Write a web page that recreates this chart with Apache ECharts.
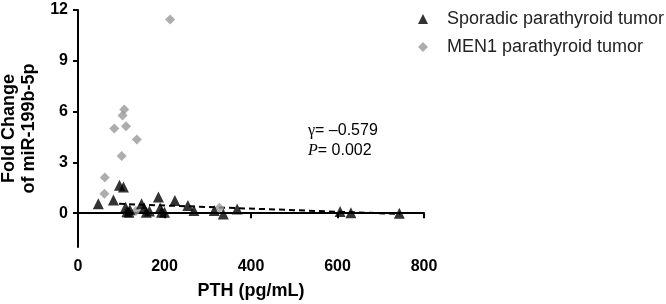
<!DOCTYPE html>
<html><head><meta charset="utf-8">
<script src="https://cdn.jsdelivr.net/npm/echarts@6/dist/echarts.min.js"></script>
<style>html,body{margin:0;padding:0;background:#fff}#c{width:666px;height:304px}</style>
</head><body><div id="c"></div>
<script>
// PTH (pg/mL), fold change of miR-199b-5p
const sporadic = [[47,0.55],[82,0.78],[96,1.65],[105,1.55],[110,0.35],[113,0.08],[118,0.05],[120,0.2],[147,0.55],[153,0.3],[158,0.05],[165,0.12],[186,0.95],[190,0.3],[193,0.05],[200,0.05],[224,0.75],[254,0.45],[268,0.15],[315,0.15],[336,-0.05],[368,0.25],[606,0.1],[631,0.02],[743,0.0]];
const men1 = [[61,1.15],[62,2.1],[84,5.0],[101,3.37],[103,5.77],[107,6.12],[111,5.14],[134,0.12],[136,4.35],[213,11.44],[327,0.32]];
const fitLine = [[95,0.55],[745,-0.05]];
const xTicks = [0,200,400,600,800];
const yTicks = [0,3,6,9,12];
const seriesNames = ['Sporadic parathyroid tumor','MEN1 parathyroid tumor'];

const chart = echarts.init(document.getElementById('c'));
const axisLabelStyle = {color:'#000', fontFamily:'Arial, Liberation Sans', fontWeight:'bold', fontSize:16};
chart.setOption({
  animation:false,
  grid:{left:78, right:242, top:10, bottom:57, containLabel:false, outerBoundsMode:'none'},
  legend:{
    orient:'vertical', left:413, top:4, itemGap:8, itemWidth:10, itemHeight:10,
    textStyle:{fontFamily:'Arial, Liberation Sans', fontSize:18, lineHeight:20, color:'#222', padding:[0,0,0,14]},
    data:[{name:seriesNames[0], icon:'triangle', itemStyle:{color:'#000'}},
          {name:seriesNames[1], icon:'diamond', itemStyle:{color:'#999999'}}]
  },
  xAxis:{
    type:'value', min:xTicks[0], max:xTicks[xTicks.length-1], interval:200,
    name:'PTH (pg/mL)', nameLocation:'middle', nameGap:35,
    nameTextStyle:{color:'#000', fontFamily:'Arial, Liberation Sans', fontWeight:'bold', fontSize:18},
    axisLine:{lineStyle:{color:'#000', width:2}},
    axisTick:{length:5, lineStyle:{color:'#000', width:2}},
    axisLabel:Object.assign({margin:12}, axisLabelStyle),
    splitLine:{show:false}
  },
  yAxis:{
    type:'value', min:-2, max:12,
    name:'Fold Change\nof miR-199b-5p', nameLocation:'middle', nameGap:33, nameRotate:90,
    nameTextStyle:{color:'#000', fontFamily:'Arial, Liberation Sans', fontWeight:'bold', fontSize:18, lineHeight:20},
    axisLine:{show:true, lineStyle:{color:'#000', width:2}},
    axisTick:{show:true, length:5, customValues:yTicks, lineStyle:{color:'#000', width:2}},
    axisLabel:Object.assign({margin:10, customValues:yTicks}, axisLabelStyle),
    splitLine:{show:false}
  },
  graphic:[{
    type:'text', left:308, top:123,
    style:{
      text:'{g|γ}{n|= –0.579}\n{p|P}{n|= 0.002}',
      rich:{
        g:{fontFamily:'Liberation Serif, Times New Roman', fontSize:16, fill:'#000', lineHeight:20},
        p:{fontFamily:'Liberation Serif, Times New Roman', fontStyle:'italic', fontSize:16, fill:'#000', lineHeight:20},
        n:{fontFamily:'Arial, Liberation Sans', fontSize:16, fill:'#000', lineHeight:20}
      }
    }
  }],
  series:[
    {type:'line', data:fitLine, symbol:'none', silent:true, z:1,
     lineStyle:{color:'#000', width:2, type:[6,4]}},
    {name:seriesNames[1], type:'scatter', data:men1, symbol:'diamond', symbolSize:10, z:2,
     itemStyle:{color:'#999999'}},
    {name:seriesNames[0], type:'scatter', data:sporadic, symbol:'triangle', symbolSize:11, z:3,
     itemStyle:{color:'#000'}}
  ]
});
</script></body></html>
